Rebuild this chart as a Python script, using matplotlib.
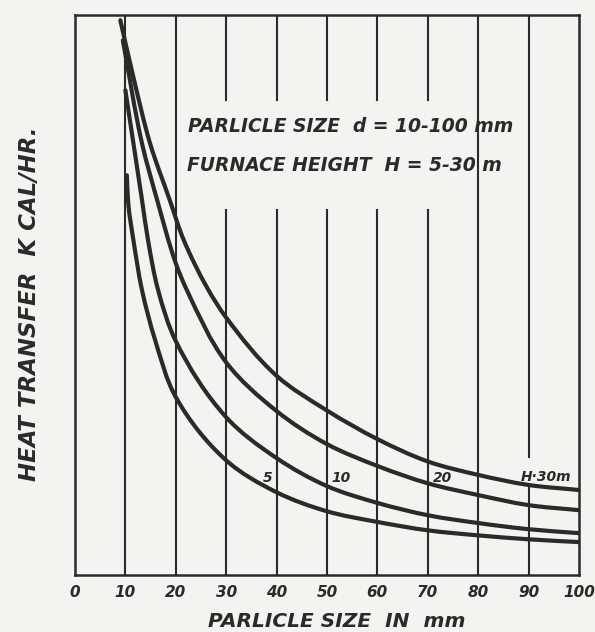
import numpy as np
import matplotlib
matplotlib.use("Agg")
import matplotlib.pyplot as plt
from matplotlib.path import Path
from matplotlib.patches import PathPatch

# curves: particle size (mm) vs heat transfer (relative units)
h30_x = [9.0, 11.6, 14.9, 18.8, 21.6, 26.3, 30, 40, 50, 60, 70, 80, 90, 100]
h30_y = [99.1, 88.9, 77.1, 67.0, 59.8, 51.2, 46.0, 35.6, 29.4, 24.3, 20.3, 17.9, 16.1, 15.2]

h20_x = [9.5, 13.3, 16.3, 20, 22.2, 30, 40, 50, 60, 70, 80, 90, 100]
h20_y = [95.5, 77.1, 67.0, 55.7, 50.9, 38.0, 29.3, 23.4, 19.5, 16.4, 14.3, 12.5, 11.6]

h10_x = [10.0, 11.6, 13.3, 14.5, 16.5, 20, 30, 40, 50, 60, 70, 80, 90, 100]
h10_y = [86.6, 77.1, 67.0, 59.8, 50.9, 41.8, 28.2, 20.9, 15.9, 12.9, 10.7, 9.3, 8.2, 7.5]

h5_x = [10.3, 10.6, 11.6, 13.3, 15.9, 20, 30, 40, 50, 60, 70, 80, 90, 100]
h5_y = [71.4, 66.1, 59.8, 50.9, 42.0, 31.8, 20.5, 14.8, 11.4, 9.5, 8.0, 7.1, 6.4, 5.9]

x_ticks = [0, 10, 20, 30, 40, 50, 60, 70, 80, 90, 100]
curve_labels = ["5", "10", "20", "H·30m"]

INK = "#2a2a2a"
PAPER = "#f3f3f0"
FONT = dict(family="DejaVu Sans", style="italic", weight="bold", color=INK)


def smooth_path(xs, ys, sx=5.04, sy=5.6):
    """Bezier path through the read points (hand-drawn curves are smooth)."""
    p = np.column_stack([np.asarray(xs) * sx, np.asarray(ys) * sy])
    n = len(p)
    d = np.diff(p, axis=0)
    u = d / np.linalg.norm(d, axis=1)[:, None]
    tang = np.zeros_like(p)
    tang[0] = u[0]
    tang[-1] = u[-1]
    for i in range(1, n - 1):
        t = u[i - 1] + u[i]
        tang[i] = t / np.linalg.norm(t)
    verts = [p[0]]
    codes = [Path.MOVETO]
    for i in range(n - 1):
        seg = np.linalg.norm(d[i])
        verts += [p[i] + tang[i] * seg / 3, p[i + 1] - tang[i + 1] * seg / 3, p[i + 1]]
        codes += [Path.CURVE4] * 3
    verts = np.array(verts) / [sx, sy]
    return Path(verts, codes)


fig = plt.figure(figsize=(5.95, 6.32), dpi=100, facecolor=PAPER)
ax = fig.add_axes([0.126, 0.090, 0.847, 0.886], facecolor=PAPER)
ax.set_xlim(0, 100)
ax.set_ylim(0, 100)

# vertical rulings, broken where the hand lettering sits
for xv in [10, 20, 80]:
    ax.plot([xv, xv], [0, 100], color=INK, lw=1.5, zorder=1)
for xv in [30, 40, 50, 60, 70]:
    ax.plot([xv, xv], [0, 65.2], color=INK, lw=1.5, zorder=1)
    ax.plot([xv, xv], [84.8, 100], color=INK, lw=1.5, zorder=1)
ax.plot([90, 90], [0, 15.5], color=INK, lw=1.5, zorder=1)
ax.plot([90, 90], [21.1, 100], color=INK, lw=1.5, zorder=1)

for xs, ys in [(h30_x, h30_y), (h20_x, h20_y), (h10_x, h10_y), (h5_x, h5_y)]:
    ax.add_patch(PathPatch(smooth_path(xs, ys), facecolor="none", edgecolor=INK,
                           lw=3.0, capstyle="round", joinstyle="round", zorder=3))

# curve labels
for lab, (lx, ly) in zip(curve_labels, [(38.3, 17.3), (52.8, 17.3), (73.0, 17.3), (93.5, 17.6)]):
    ax.text(lx, ly, lab, ha="center", va="center", fontsize=10, **FONT)

ax.text(22.5, 80.1, "PARLICLE SIZE  d = 10-100 mm", ha="left", va="center",
        fontsize=13.5, **FONT)
ax.text(22.3, 73.2, "FURNACE HEIGHT  H = 5-30 m", ha="left", va="center",
        fontsize=13.5, **FONT)

ax.set_xticks(x_ticks)
ax.set_xticklabels([str(t) for t in x_ticks], fontsize=11, fontstyle="italic",
                   fontweight="bold", color=INK)
ax.set_yticks([])
ax.tick_params(axis="x", length=0, pad=7)
for s in ax.spines.values():
    s.set_color(INK)
    s.set_linewidth(1.8)

ax.set_xlabel("PARLICLE SIZE  IN  mm", fontsize=14.5, labelpad=7, **FONT)
ax.xaxis.set_label_coords(0.52, -0.065)
fig.text(0.05, 0.52, "HEAT TRANSFER  K CAL/HR.", rotation=90, ha="center",
         va="center", fontsize=16.5, **FONT)

fig.savefig("out.png", dpi=100, facecolor=PAPER)
